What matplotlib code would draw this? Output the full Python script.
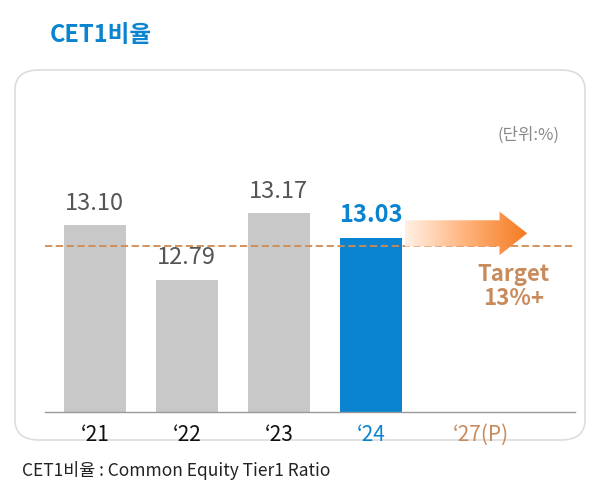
import numpy as np
import matplotlib.pyplot as plt
from matplotlib.patches import FancyBboxPatch, Polygon
from matplotlib.colors import LinearSegmentedColormap

plt.rcParams['font.family'] = ['Noto Sans CJK KR', 'DejaVu Sans']

years = ["\u201821", "\u201822", "\u201823", "\u201824", "\u201827(P)"]
values = [13.10, 12.79, 13.17, 13.03]
labels = ["13.10", "12.79", "13.17", "13.03"]
target = 12.985

gray = "#c8c8c8"
blue = "#0a84d0"
orange = "#c98a5c"

fig = plt.figure(figsize=(6, 4.98), dpi=100)
box = FancyBboxPatch((15/600, 1-440/498), 570/600, 370/498,
                     boxstyle="round,pad=0,rounding_size=0.04",
                     transform=fig.transFigure, fc="white", ec="#dddddd", lw=1.2, zorder=-10)
fig.patches.append(box)
fig.text(50/600, 1-35/498, "CET1비율", color=blue, fontsize=17, fontweight="bold", va="center")
fig.text(22/600, 1-470/498, "CET1비율 : Common Equity Tier1 Ratio", color="#222222", fontsize=12.5, va="center")

ax = fig.add_axes([45/600, 1-412/498, 530/600, 312/498])
ax.set_zorder(5)
ax.patch.set_alpha(0)
ax.set_xlim(-0.54, 5.22)
ax.set_ylim(12.03, 13.82)
ax.axis("off")

x = np.arange(len(values))
colors = [gray, gray, gray, blue]
ax.bar(x, [v - 12.03 for v in values], bottom=12.03, width=0.67, color=colors)
for i, (v, l) in enumerate(zip(values, labels)):
    if i == 3:
        ax.text(i, v + 0.06, l, ha="center", va="bottom", fontsize=17, color=blue, fontweight="bold")
    else:
        ax.text(i, v + 0.06, l, ha="center", va="bottom", fontsize=17, color="#555555")

ax.plot([-0.54, 5.22], [12.03, 12.03], color="#999999", lw=1, clip_on=False)
ax.axhline(target, color="#d08a50", lw=1.3, ls=(0, (4, 2)))

# gradient arrow
pts = [(3.37, 13.13), (4.40, 13.13), (4.40, 13.18), (4.70, 13.055), (4.40, 12.93), (4.40, 12.98), (3.37, 12.98)]
poly = Polygon(pts, closed=True, fc="none", ec="none", transform=ax.transData)
ax.add_patch(poly)
grad = np.linspace(0, 1, 256).reshape(1, -1)
cmap = LinearSegmentedColormap.from_list("g", ["#fff1e6", "#ffb27a", "#f47a20"])
im = ax.imshow(grad, extent=[3.37, 4.70, 12.93, 13.18], cmap=cmap, aspect="auto", zorder=3)
im.set_clip_path(poly)
ax.set_xlim(-0.54, 5.22)
ax.set_ylim(12.03, 13.82)

ax.text(4.55, 12.75, "Target\n13%+", ha="center", va="center", fontsize=16, color=orange,
        fontweight="bold", linespacing=1.1)
ax.text(5.05, 13.62, "(단위:%)", ha="right", va="center", fontsize=12, color="#888888")

for i, y in enumerate(years):
    c = "#111111" if i < 3 else (blue if i == 3 else orange)
    ax.text(i if i < 4 else 4.2, 11.90, y, ha="center", va="center", fontsize=15, color=c, clip_on=False)

fig.savefig("out.png", dpi=100)
